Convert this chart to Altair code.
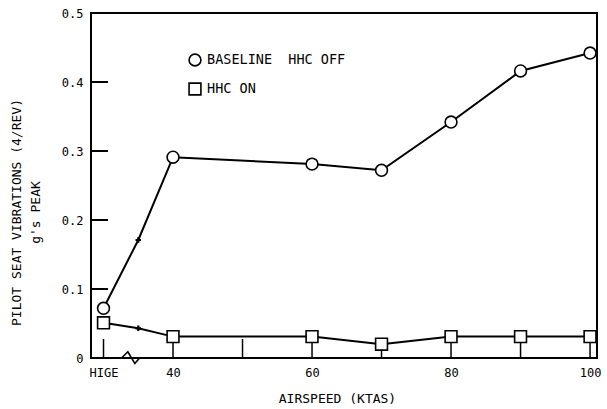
import altair as alt
import pandas as pd

# Airspeed stations (30 stands for the HIGE hover point, 35 is the unmarked mid point)
SPEED = [30, 35, 40, 60, 70, 80, 90, 100]
BASELINE_OFF = [0.072, 0.171, 0.291, 0.281, 0.272, 0.342, 0.416, 0.442]
HHC_ON = [0.051, 0.043, 0.031, 0.031, 0.020, 0.031, 0.031, 0.031]
SERIES = ["BASELINE\u00a0\u00a0HHC OFF", "HHC ON"]

X_TICKS = [30, 40, 50, 60, 70, 80, 90, 100]
X_LABEL_VALUES = [30, 40, 60, 80, 100]
Y_TICKS = [0.1, 0.2, 0.3, 0.4]
Y_LABEL_VALUES = [0, 0.1, 0.2, 0.3, 0.4, 0.5]

# Axis-break squiggle between HIGE and 40 kt
BREAK_X = [32.6, 33.5, 34.5, 35.2]
BREAK_Y = [0.0, 0.009, -0.008, 0.0]

FONT = "DejaVu Sans Mono"
W, H = 506, 345

rows = []
for s, vals in zip(SERIES, [BASELINE_OFF, HHC_ON]):
    for i, (x, y) in enumerate(zip(SPEED, vals)):
        rows.append({"speed": x, "g": y, "series": s, "order": i,
                     "marker": x != 35})
df = pd.DataFrame(rows)

x_enc = alt.X(
    "speed:Q",
    scale=alt.Scale(domain=[28.2, 101], nice=False, zero=False),
    axis=alt.Axis(
        values=X_LABEL_VALUES,
        labelExpr="datum.value == 30 ? 'HIGE' : datum.label",
        ticks=False, tickSize=0, domain=False, grid=False,
        labelFont=FONT, labelFontSize=12, labelColor="black",
        labelPadding=9,
        title="AIRSPEED (KTAS)", titleFont=FONT, titleFontSize=13,
        titleFontWeight="normal", titleColor="black",
        titleX=246, titleY=40, titleBaseline="middle",
    ),
)
y_enc = alt.Y(
    "g:Q",
    scale=alt.Scale(domain=[0, 0.5], nice=False, zero=False),
    axis=alt.Axis(
        values=Y_LABEL_VALUES,
        labelExpr="datum.value == 0 ? '0' : format(datum.value, '.1f')",
        ticks=False, tickSize=0, domain=False, grid=False,
        labelFont=FONT, labelFontSize=12, labelColor="black",
        labelPadding=8,
        title=["PILOT SEAT VIBRATIONS (4/REV)", "g's PEAK"],
        titleFont=FONT, titleFontSize=13, titleFontWeight="normal",
        titleColor="black", titleAngle=-90, titleBaseline="top",
        titleLineHeight=19, titleX=-81, titleY=199, titleAlign="center",
    ),
)

legend = alt.Legend(
    orient="none", legendX=97, legendY=40, title=None,
    labelFont=FONT, labelFontSize=13.5, labelColor="black",
    labelOffset=5, rowPadding=9, padding=0,
    symbolFillColor="white", symbolStrokeWidth=1.6, symbolSize=140,
)

lines = alt.Chart(df).mark_line(color="black", strokeWidth=2).encode(
    x=x_enc, y=y_enc, detail="series:N", order="order:Q"
)

markers = alt.Chart(df).transform_filter("datum.marker").mark_point(
    filled=False, fill="white", fillOpacity=1, strokeWidth=1.6, opacity=1, size=140
).encode(
    x=x_enc, y=y_enc,
    shape=alt.Shape(
        "series:N",
        scale=alt.Scale(domain=SERIES, range=["circle", "square"]),
        legend=legend,
    ),
    color=alt.Color(
        "series:N",
        scale=alt.Scale(domain=SERIES, range=["black", "black"]),
        legend=legend,
    ),
)

midpoints = alt.Chart(df).transform_filter("!datum.marker").mark_point(
    shape="cross", filled=True, color="black", size=30, opacity=1
).encode(x=x_enc, y=y_enc)

x_tick_df = pd.DataFrame({"speed": X_TICKS})
x_ticks = alt.Chart(x_tick_df).mark_rule(color="black", strokeWidth=1.5).encode(
    x=x_enc, y=alt.value(H), y2=alt.value(H - 19)
)

y_tick_df = pd.DataFrame({"g": Y_TICKS})
y_ticks = alt.Chart(y_tick_df).mark_rule(color="black", strokeWidth=2).encode(
    y=y_enc, x=alt.value(0), x2=alt.value(17)
)

break_df = pd.DataFrame({"speed": BREAK_X, "g": BREAK_Y, "i": range(len(BREAK_X))})
squiggle = alt.Chart(break_df).mark_line(color="black", strokeWidth=1.6).encode(
    x=x_enc, y=y_enc, order="i:Q"
)

chart = alt.layer(x_ticks, y_ticks, squiggle, lines, midpoints, markers).properties(
    width=W, height=H,
    autosize=alt.AutoSizeParams(type="none"),
    padding={"left": 91, "top": 13, "right": 10, "bottom": 51},
    background="white",
).configure_view(stroke="black", strokeWidth=2)

chart.save("out.html", embed_options={"renderer": "svg", "actions": False})
